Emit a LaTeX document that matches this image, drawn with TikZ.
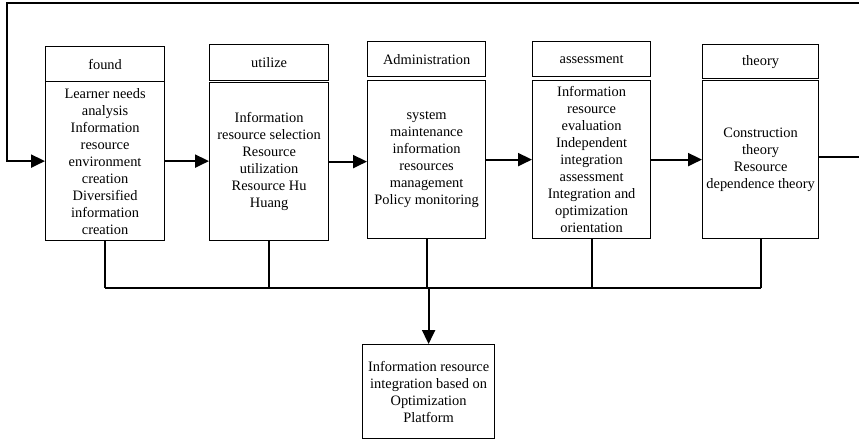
\documentclass[tikz,border=0pt]{standalone}
\usepackage{fontspec}
\setmainfont{Liberation Serif}
\usetikzlibrary{arrows.meta}
\begin{document}
\begin{tikzpicture}[x=1pt, y=-1pt,
  every node/.style={font=\rmfamily\fontsize{14.4}{17}\selectfont},
  headbox/.style={draw, line width=1.2pt, anchor=north west, inner sep=0pt, align=center},
  bodybox/.style={draw, line width=1.2pt, anchor=north west, inner sep=0pt, align=center},
  link/.style={line width=2pt},
  flow/.style={line width=2pt, -{Triangle[length=14pt, width=13pt]}}]
\useasboundingbox (0,0) rectangle (859,439);

% stage headers
\node[headbox, minimum width=119pt, minimum height=35pt] (t1) at (45,46) {found};
\node[headbox, minimum width=119pt, minimum height=36pt] (t2) at (209,44) {utilize};
\node[headbox, minimum width=118pt, minimum height=35pt] (t3) at (367,41) {Administration};
\node[headbox, minimum width=118pt, minimum height=35pt] (t4) at (532,41) {assessment};
\node[headbox, minimum width=116pt, minimum height=34pt] (t5) at (702,44) {theory};

% stage contents
\node[bodybox, minimum width=119pt, minimum height=159pt] (b1) at (45,81)
  {Learner needs\\analysis\\Information\\resource\\environment\\creation\\Diversified\\information\\creation};
\node[bodybox, minimum width=119pt, minimum height=158pt] (b2) at (209,82)
  {Information\\resource selection\\Resource\\utilization\\Resource Hu\\Huang};
\node[bodybox, minimum width=118pt, minimum height=158pt] (b3) at (367,80)
  {system\\maintenance\\information\\resources\\management\\Policy monitoring};
\node[bodybox, minimum width=118pt, minimum height=158pt] (b4) at (532,80)
  {Information\\resource\\evaluation\\Independent\\integration\\assessment\\Integration and\\optimization\\orientation};
\node[bodybox, minimum width=116pt, minimum height=158pt] (b5) at (702,80)
  {Construction\\theory\\Resource\\dependence theory};

% integration platform
\node[bodybox, minimum width=132pt, minimum height=94pt] (out) at (362,344)
  {Information resource\\integration based on\\Optimization\\Platform};

% flow between stages
\draw[flow] (b1.east) -- (b1.east -| b2.west);
\draw[flow] (b2.east) -- (b2.east -| b3.west);
\draw[flow] (b3.east) -- (b3.east -| b4.west);
\draw[flow] (b4.east) -- (b4.east -| b5.west);

% feedback loop
\coordinate (fbtop) at (859,3);
\coordinate (fbcorner) at (7,3);
\coordinate (fbright) at (859,157);
\draw[link] (b5.east |- fbright) -- (fbright);
\draw[flow] (fbtop) -- (fbcorner) |- (b1.west);

% collecting bus
\coordinate (busL) at (105,288);
\coordinate (busR) at (761,288);
\draw[link] (busL) -- (busR);
\draw[link] (b1.south) -- (b1.south |- busL);
\draw[link] (b2.south) -- (b2.south |- busL);
\draw[link] (b3.south) -- (b3.south |- busL);
\draw[link] (b4.south) -- (b4.south |- busL);
\draw[link] (b5.south) -- (b5.south |- busL);
\draw[flow] (out.north |- busL) -- (out.north);
\end{tikzpicture}
\end{document}
